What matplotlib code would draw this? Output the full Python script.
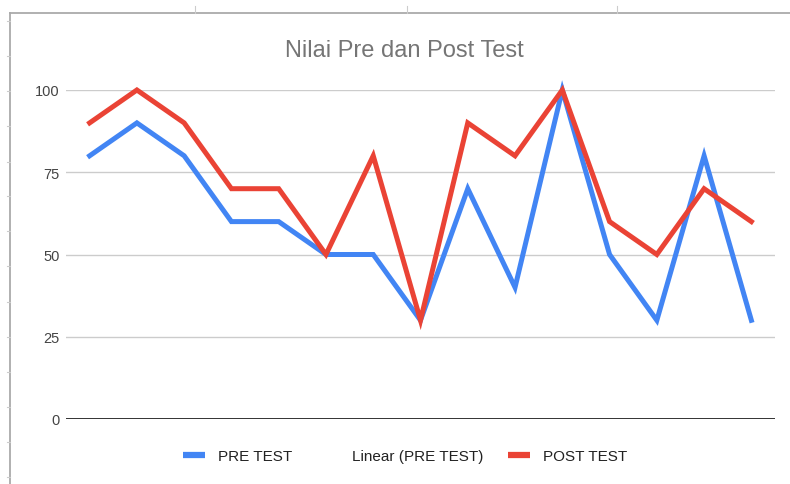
import numpy as np
import matplotlib.pyplot as plt
from matplotlib.lines import Line2D

plt.rcParams['font.family'] = ['Liberation Sans', 'DejaVu Sans']

# nilai per siswa
pre_test = [80, 90, 80, 60, 60, 50, 50, 30, 70, 40, 100, 50, 30, 80, 30]
post_test = [90, 100, 90, 70, 70, 50, 80, 30, 90, 80, 100, 60, 50, 70, 60]
y_ticks = [0, 25, 50, 75, 100]
legend_labels = ['PRE TEST', 'Linear (PRE TEST)', 'POST TEST']

blue = '#4285F4'
red = '#EA4335'

fig = plt.figure(figsize=(7.9, 4.85), dpi=100)
ax = fig.add_axes([66 / 790, 65 / 485, 709 / 790, 329 / 485])

x = np.arange(len(pre_test))
ax.plot(x, pre_test, color=blue, lw=3.6, solid_joinstyle='miter', clip_on=False, zorder=3)
ax.plot(x, post_test, color=red, lw=3.6, solid_joinstyle='miter', clip_on=False, zorder=4)

ax.set_xlim(-0.5, len(pre_test) - 0.5)
ax.set_ylim(0, 100)
ax.set_yticks(y_ticks)
ax.set_yticklabels([str(t) for t in y_ticks], fontsize=10.5, color='#444444')
ax.set_xticks([])
ax.tick_params(axis='y', length=0, pad=4.5)
for s in ax.spines.values():
    s.set_visible(False)
for t in y_ticks[1:]:
    ax.axhline(t, color='#cccccc', lw=1, zorder=1)
ax.axhline(0, color='#333333', lw=1.4, zorder=2)

fig.text(404 / 790, 1 - 51 / 485, 'Nilai Pre dan Post Test', ha='center', va='center',
         fontsize=17, color='#757575')

handles = [Line2D([], [], color=blue, lw=4.5, solid_capstyle='butt'),
           Line2D([], [], color='none', lw=4.5),
           Line2D([], [], color=red, lw=4.5, solid_capstyle='butt')]
fig.legend(handles, legend_labels, loc='center', bbox_to_anchor=(405 / 790, 1 - 457 / 485),
           ncol=3, frameon=False, fontsize=11, handlelength=1.44, handletextpad=0.85,
           columnspacing=1.63, labelcolor='#222222')

# garis tepi lembar kerja
fig.add_artist(Line2D([10 / 790, 10 / 790], [0, 1 - 14 / 485], transform=fig.transFigure,
                      color='#aaaaaa', lw=1.3))
fig.add_artist(Line2D([10 / 790, 1], [1 - 14 / 485, 1 - 14 / 485], transform=fig.transFigure,
                      color='#aaaaaa', lw=1.3))
for tx in [195, 407, 617]:
    fig.add_artist(Line2D([tx / 790, tx / 790], [1 - 7 / 485, 1 - 14 / 485],
                          transform=fig.transFigure, color='#cccccc', lw=0.8))
for ty in [22, 57, 92, 127, 163, 197, 232, 267, 303, 338, 373, 408, 443, 478]:
    fig.add_artist(Line2D([7 / 790, 10 / 790], [1 - ty / 485, 1 - ty / 485],
                          transform=fig.transFigure, color='#cccccc', lw=0.8))

fig.savefig('out.png', dpi=100)
